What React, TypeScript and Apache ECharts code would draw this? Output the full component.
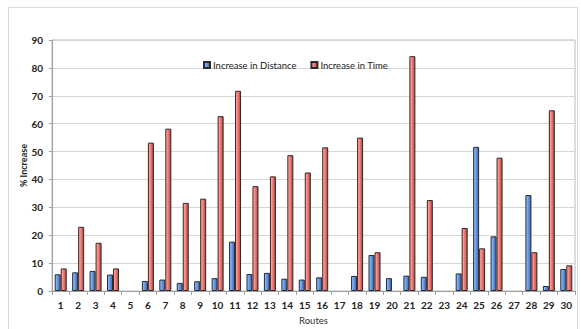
import React, { useEffect, useRef } from "react";
import * as echarts from "echarts";

const routes = Array.from({ length: 30 }, (_, i) => String(i + 1));
const increaseDistance = [6, 6.7, 7.2, 5.9, 0, 3.6, 4.1, 2.9, 3.5, 4.6, 17.7, 6.1, 6.5, 4.4, 4.1, 4.9, 0, 5.4, 12.9, 4.6, 5.5, 5.1, 0, 6.3, 51.7, 19.6, 0, 34.4, 1.8, 7.9];
const increaseTime = [8.1, 23, 17.3, 8.1, 0, 53.2, 58.2, 31.6, 33.1, 62.7, 71.8, 37.6, 41.1, 48.7, 42.5, 51.5, 0, 55, 13.9, 0, 84.2, 32.6, 0, 22.6, 15.3, 47.8, 0, 13.9, 64.8, 9.2];
const yTicks = { min: 0, max: 90, interval: 10 };

export default function App() {
  const ref = useRef<HTMLDivElement>(null);
  useEffect(() => {
    const chart = echarts.init(ref.current!, null, { renderer: "svg" });
    const font = "Lato, 'Open Sans', sans-serif";
    const blue = new echarts.graphic.LinearGradient(0, 0, 1, 0, [
      { offset: 0, color: "#a4c6f4" },
      { offset: 0.5, color: "#6396e2" },
      { offset: 1, color: "#3366bc" },
    ]);
    const red = new echarts.graphic.LinearGradient(0, 0, 1, 0, [
      { offset: 0, color: "#fbbcba" },
      { offset: 0.5, color: "#f07773" },
      { offset: 1, color: "#cc3935" },
    ]);
    const nz = (arr: number[]) => arr.map((v) => (v === 0 ? null : v));
    chart.setOption({
      animation: false,
      textStyle: { fontFamily: font },
      graphic: [
        {
          type: "rect",
          shape: { x: 8.5, y: 7.5, width: 569, height: 330 },
          style: { fill: "none", stroke: "#d9d9d9", lineWidth: 1 },
          silent: true,
        },
      ],
      legend: {
        left: 198,
        top: 55,
        itemWidth: 6,
        itemHeight: 6,
        itemGap: 14,
        textStyle: { fontSize: 9.5, color: "#222", fontFamily: font, padding: [0, 0, 0, -2] },
        data: [
          { name: "Increase in Distance", icon: "rect" },
          { name: "Increase in Time", icon: "rect" },
        ],
      },
      grid: {
        left: 52,
        right: 6,
        top: 40,
        bottom: 38,
        show: true,
        borderColor: "#bdbdbd",
        borderWidth: 1,
        outerBoundsMode: "none",
      },
      xAxis: {
        type: "category",
        data: routes,
        name: "Routes",
        nameLocation: "middle",
        nameGap: 24,
        nameMoveOverlap: false,
        nameTextStyle: { fontSize: 9.5, color: "#333", fontFamily: font },
        axisLine: { lineStyle: { color: "#9e9e9e" } },
        axisTick: { show: true, length: 4, lineStyle: { color: "#9e9e9e" } },
        axisLabel: { fontSize: 10, fontWeight: "bold", color: "#222", margin: 9, interval: 0 },
      },
      yAxis: {
        type: "value",
        min: yTicks.min,
        max: yTicks.max,
        interval: yTicks.interval,
        name: "% Increase",
        nameLocation: "middle",
        nameGap: 24,
        nameMoveOverlap: false,
        nameTextStyle: { fontSize: 9, color: "#222", fontWeight: "bold", fontFamily: font },
        axisLine: { show: true, lineStyle: { color: "#9e9e9e" } },
        axisTick: { show: true, length: 3, lineStyle: { color: "#9e9e9e" } },
        axisLabel: { fontSize: 10, fontWeight: "bold", color: "#222", margin: 9 },
        splitLine: { lineStyle: { color: "#d6d6d6" } },
      },
      series: [
        {
          name: "Increase in Distance",
          type: "bar",
          data: nz(increaseDistance),
          barWidth: 6,
          barGap: "0%",
          itemStyle: { color: blue, borderColor: "#2a2a2a", borderWidth: 1 },
        },
        {
          name: "Increase in Time",
          type: "bar",
          data: nz(increaseTime),
          barWidth: 6,
          barGap: "0%",
          itemStyle: { color: red, borderColor: "#2a2a2a", borderWidth: 1 },
        },
      ],
    });
    return () => chart.dispose();
  }, []);
  return (
    <div
      ref={ref}
      style={{ position: "fixed", left: 0, top: 0, width: 581, height: 329, background: "#fff" }}
    />
  );
}
